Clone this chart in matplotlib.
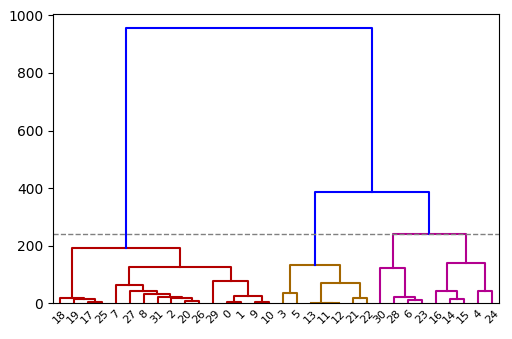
import numpy as np
import matplotlib
matplotlib.use("Agg")
import matplotlib.pyplot as plt

# linkage rows: left child, right child, merge height
# ids 0..31 are the observations, 32+ are the merged clusters in row order
merge_left = [17, 19, 18, 20, 2, 31, 8, 27, 7, 0, 9, 41, 29, 40, 34,
              3, 11, 13, 21, 49, 47,
              6, 28, 30, 14, 16, 4, 57, 55,
              52, 46]
merge_right = [25, 32, 33, 26, 35, 36, 37, 38, 39, 1, 10, 42, 43, 44, 45,
               5, 12, 48, 22, 50, 51,
               23, 53, 54, 15, 56, 24, 58, 59,
               60, 61]
merge_height = [5, 14, 19, 9, 17, 21, 33, 44, 63, 3.5, 3, 25, 78, 126, 191,
                35, 1, 2.5, 17, 71, 134,
                12.5, 23, 123, 16, 41, 42, 139, 239,
                388, 957]

threshold = 240
cluster_colors = ["#b30000", "#a36600", "#b3008f"]
above_color = "#0000ff"

n_obs = len(merge_left) + 1
children = {n_obs + i: (merge_left[i], merge_right[i]) for i in range(len(merge_left))}
heights = {n_obs + i: merge_height[i] for i in range(len(merge_left))}
root = n_obs + len(merge_left) - 1

# leaf order from a left-to-right walk of the tree
leaf_order = []
def walk(node):
    if node < n_obs:
        leaf_order.append(node)
    else:
        walk(children[node][0])
        walk(children[node][1])
walk(root)

xpos = {leaf: 5 + 10 * i for i, leaf in enumerate(leaf_order)}
def place(node):
    if node < n_obs:
        return xpos[node]
    l, r = children[node]
    xpos[node] = (place(l) + place(r)) / 2
    return xpos[node]
place(root)

# colour every link below the threshold by the cluster it belongs to
link_color = {}
next_color = [0]
def paint(node, color=None):
    if node < n_obs:
        return
    h = heights[node]
    if color is None and h < threshold:
        color = cluster_colors[next_color[0] % len(cluster_colors)]
        next_color[0] += 1
    link_color[node] = color if color is not None else above_color
    paint(children[node][0], color)
    paint(children[node][1], color)
paint(root)

fig = plt.figure(figsize=(5.12, 3.39), dpi=100)
ax = fig.add_axes([0.1035, 0.1053, 0.871, 0.8534])

for node, (l, r) in children.items():
    h = heights[node]
    hl = heights.get(l, 0)
    hr = heights.get(r, 0)
    ax.plot([xpos[l], xpos[l], xpos[r], xpos[r]], [hl, h, h, hr],
            color=link_color[node], lw=1.5)

ax.axhline(threshold, color="gray", ls="--", lw=1)

ax.set_xlim(0, 10 * n_obs)
ax.set_ylim(0, max(merge_height) * 1.05)
ax.set_xticks([5 + 10 * i for i in range(n_obs)])
ax.set_xticklabels([str(l) for l in leaf_order], rotation=45, fontsize=8)
ax.tick_params(axis="x", length=0)
ax.set_yticks([0, 200, 400, 600, 800, 1000])

fig.savefig("out.png", dpi=100)
